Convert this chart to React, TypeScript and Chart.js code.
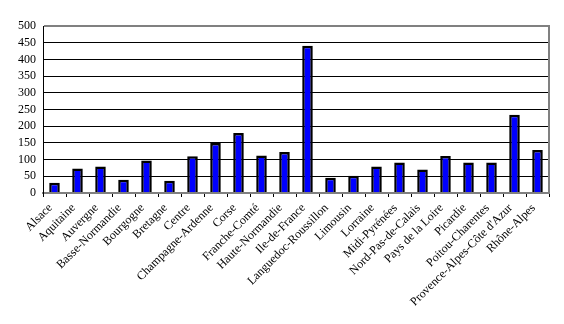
import React, { useEffect, useRef } from "react";
import { Chart, registerables } from "chart.js";

Chart.register(...registerables);

const regions: string[] = [
  "Alsace",
  "Aquitaine",
  "Auvergne",
  "Basse-Normandie",
  "Bourgogne",
  "Bretagne",
  "Centre",
  "Champagne-Ardenne",
  "Corse",
  "Franche-Comté",
  "Haute-Normandie",
  "Ile-de-France",
  "Languedoc-Roussillon",
  "Limousin",
  "Lorraine",
  "Midi-Pyrénées",
  "Nord-Pas-de-Calais",
  "Pays de la Loire",
  "Picardie",
  "Poitou-Charentes",
  "Provence-Alpes-Côte d'Azur",
  "Rhône-Alpes",
];

const values: number[] = [
  31, 73, 79, 40, 97, 37, 110, 150, 180, 112, 123, 441, 46, 52, 79, 91, 70, 111, 91, 91, 234, 129,
];

const yMin = 0;
const yMax = 500;
const yStep = 50;

const rightBorder = {
  id: "rightBorder",
  afterDraw(chart: any) {
    const { ctx, chartArea } = chart;
    ctx.save();
    ctx.strokeStyle = "#808080";
    ctx.lineWidth = 2;
    ctx.beginPath();
    ctx.moveTo(chartArea.right, chartArea.top - 1);
    ctx.lineTo(chartArea.right, chartArea.bottom + 1);
    ctx.stroke();
    ctx.restore();
  },
};

export default function App() {
  const ref = useRef<HTMLCanvasElement | null>(null);

  useEffect(() => {
    if (!ref.current) return;
    const chart = new Chart(ref.current, {
      type: "bar",
      data: {
        labels: regions,
        datasets: [
          {
            data: values,
            backgroundColor: "#0000FF",
            borderColor: "#000000",
            borderWidth: 2.5,
            categoryPercentage: 1,
            barPercentage: 0.46,
          },
        ],
      },
      plugins: [rightBorder],
      options: {
        animation: false,
        responsive: false,
        layout: { padding: { top: 26, right: 15, left: 0, bottom: 0 } },
        plugins: {
          legend: { display: false },
          tooltip: { enabled: false },
        },
        scales: {
          x: {
            offset: true,
            grid: {
              display: true,
              drawOnChartArea: false,
              drawTicks: true,
              tickLength: 4,
              color: "#000000",
              offset: true,
            },
            border: { display: true, color: "#808080", width: 2 },
            ticks: {
              autoSkip: false,
              maxRotation: 45,
              minRotation: 45,
              padding: 4,
              labelOffset: -4,
              color: "#000000",
              font: { family: "'Liberation Serif', 'DejaVu Serif', serif", size: 12 },
            },
            afterFit: (scale: any) => {
              scale.height = 131;
            },
          },
          y: {
            min: yMin,
            max: yMax,
            grid: {
              color: (c: any) =>
                c.tick && (c.tick.value === yMax || c.tick.value === yMin) ? "#808080" : "#000000",
              lineWidth: (c: any) =>
                c.tick && (c.tick.value === yMax || c.tick.value === yMin) ? 2 : 1,
              drawTicks: false,
            },
            border: { display: true, color: "#000000", width: 1 },
            ticks: {
              stepSize: yStep,
              autoSkip: false,
              padding: 7,
              color: "#000000",
              font: { family: "'Liberation Serif', 'DejaVu Serif', serif", size: 12 },
            },
            afterFit: (scale: any) => {
              scale.width = 43;
            },
          },
        },
      },
    });
    return () => chart.destroy();
  }, []);

  return (
    <div style={{ position: "absolute", left: 0, top: 0, width: 564, height: 324, background: "#ffffff" }}>
      <canvas ref={ref} width={564} height={324} style={{ display: "block" }} />
    </div>
  );
}
